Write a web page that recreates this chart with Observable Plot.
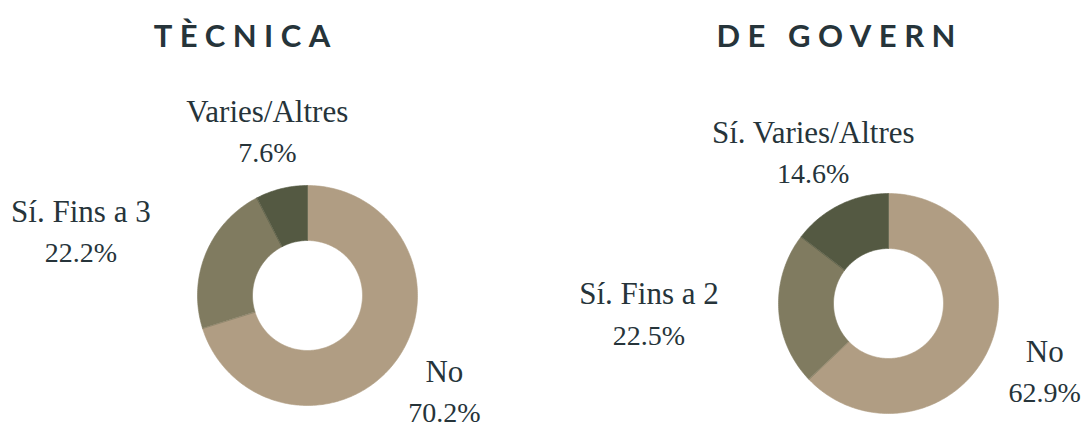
<!DOCTYPE html>
<html><head><meta charset="utf-8">
<script src="https://cdn.jsdelivr.net/npm/d3@7"></script>
<script src="https://cdn.jsdelivr.net/npm/@observablehq/plot@0.6"></script>
<style>
body{margin:0;background:#fff;}
#root{position:relative;width:1083px;height:430px;overflow:hidden;background:#fff;}
.title{position:absolute;top:15px;width:400px;font-family:Lato,"Open Sans",sans-serif;font-weight:700;font-size:31px;letter-spacing:7.5px;padding-left:7.5px;box-sizing:border-box;color:#26343a;text-align:center;line-height:40px;white-space:nowrap;}
.panel{position:absolute;top:70px;}
</style></head><body><div id="root"></div>
<script>
// ---- data ----
const categories = ["No", "Fins", "Varies"];
const titles = ["TÈCNICA", "DE GOVERN"];
const tecnicaLabels = ["No", "Sí. Fins a 3", "Varies/Altres"];
const tecnicaValues = [70.2, 22.2, 7.6];
const governLabels = ["No", "Sí. Fins a 2", "Sí. Varies/Altres"];
const governValues = [62.9, 22.5, 14.6];
const colors = ["#b09d83", "#807b60", "#545942"];

// ---- layout ----
const textColor = "#26343a";
const labelFont = '"Liberation Serif", "DejaVu Serif", serif';
const nameSize = 31, pctSize = 28;
const k = 110;            // px per unit radius
const innerR = 0.5;
const labelR = 170 / k;
const W = 541, H = 360;
const panels = [
  {left: 0, title: titles[0], titleCx: 242, cx: 307, cy: 225, labels: tecnicaLabels, values: tecnicaValues},
  {left: 541, title: titles[1], titleCx: 836, cx: 347, cy: 233, labels: governLabels, values: governValues}
];

const ctx = document.createElement("canvas").getContext("2d");
const measure = (txt, size) => { ctx.font = `${size}px ${labelFont}`; return ctx.measureText(txt).width; };
const fmt = v => d3.format(".1f")(v) + "%";

const root = document.getElementById("root");

for (const p of panels) {
  const t = document.createElement("div");
  t.className = "title";
  t.textContent = p.title;
  t.style.left = (p.titleCx - 200) + "px";
  root.appendChild(t);

  const arcs = d3.pie().sort(null).startAngle(0).endAngle(2 * Math.PI)(p.values);
  const points = [];
  const labels = [];
  arcs.forEach((a, i) => {
    const key = categories[i];
    const n = Math.max(2, Math.ceil((a.endAngle - a.startAngle) / (Math.PI / 180)));
    for (let j = 0; j <= n; j++) {
      const ang = a.startAngle + (a.endAngle - a.startAngle) * j / n;
      points.push({key, x: Math.sin(ang), y: Math.cos(ang)});
    }
    for (let j = n; j >= 0; j--) {
      const ang = a.startAngle + (a.endAngle - a.startAngle) * j / n;
      points.push({key, x: innerR * Math.sin(ang), y: innerR * Math.cos(ang)});
    }
    const mid = (a.startAngle + a.endAngle) / 2;
    const s = Math.sin(mid), c = Math.cos(mid);
    const name = p.labels[i], pct = fmt(p.values[i]);
    const w = Math.max(measure(name, nameSize), measure(pct, pctSize));
    let x = labelR * s;
    if (Math.abs(s) > 0.92) x += Math.sign(s) * (w / 2) / k;
    let y = labelR * c;
    // keep the label block inside the frame
    const py = p.cy - y * k;
    const maxPy = H - 40;
    if (py > maxPy) y = (p.cy - maxPy) / k;
    labels.push({x, y, name, pct});
  });

  const chart = Plot.plot({
    width: W, height: H,
    margin: 0,
    x: {domain: [-p.cx / k, (W - p.cx) / k], axis: null},
    y: {domain: [-(H - p.cy) / k, p.cy / k], axis: null},
    color: {domain: categories, range: colors},
    style: {background: "transparent"},
    marks: [
      Plot.line(points, {x: "x", y: "y", z: "key", fill: "key", stroke: "key", strokeWidth: 0.6, curve: "linear-closed"}),
      Plot.text(labels, {x: "x", y: "y", text: "name", fontSize: nameSize, fontFamily: labelFont, fill: textColor, textAnchor: "middle", lineAnchor: "middle", dy: -18}),
      Plot.text(labels, {x: "x", y: "y", text: "pct", fontSize: pctSize, fontFamily: labelFont, fill: textColor, textAnchor: "middle", lineAnchor: "middle", dy: 23})
    ]
  });
  const d = document.createElement("div");
  d.className = "panel";
  d.style.left = p.left + "px";
  d.appendChild(chart);
  root.appendChild(d);
}
</script>
</body></html>
